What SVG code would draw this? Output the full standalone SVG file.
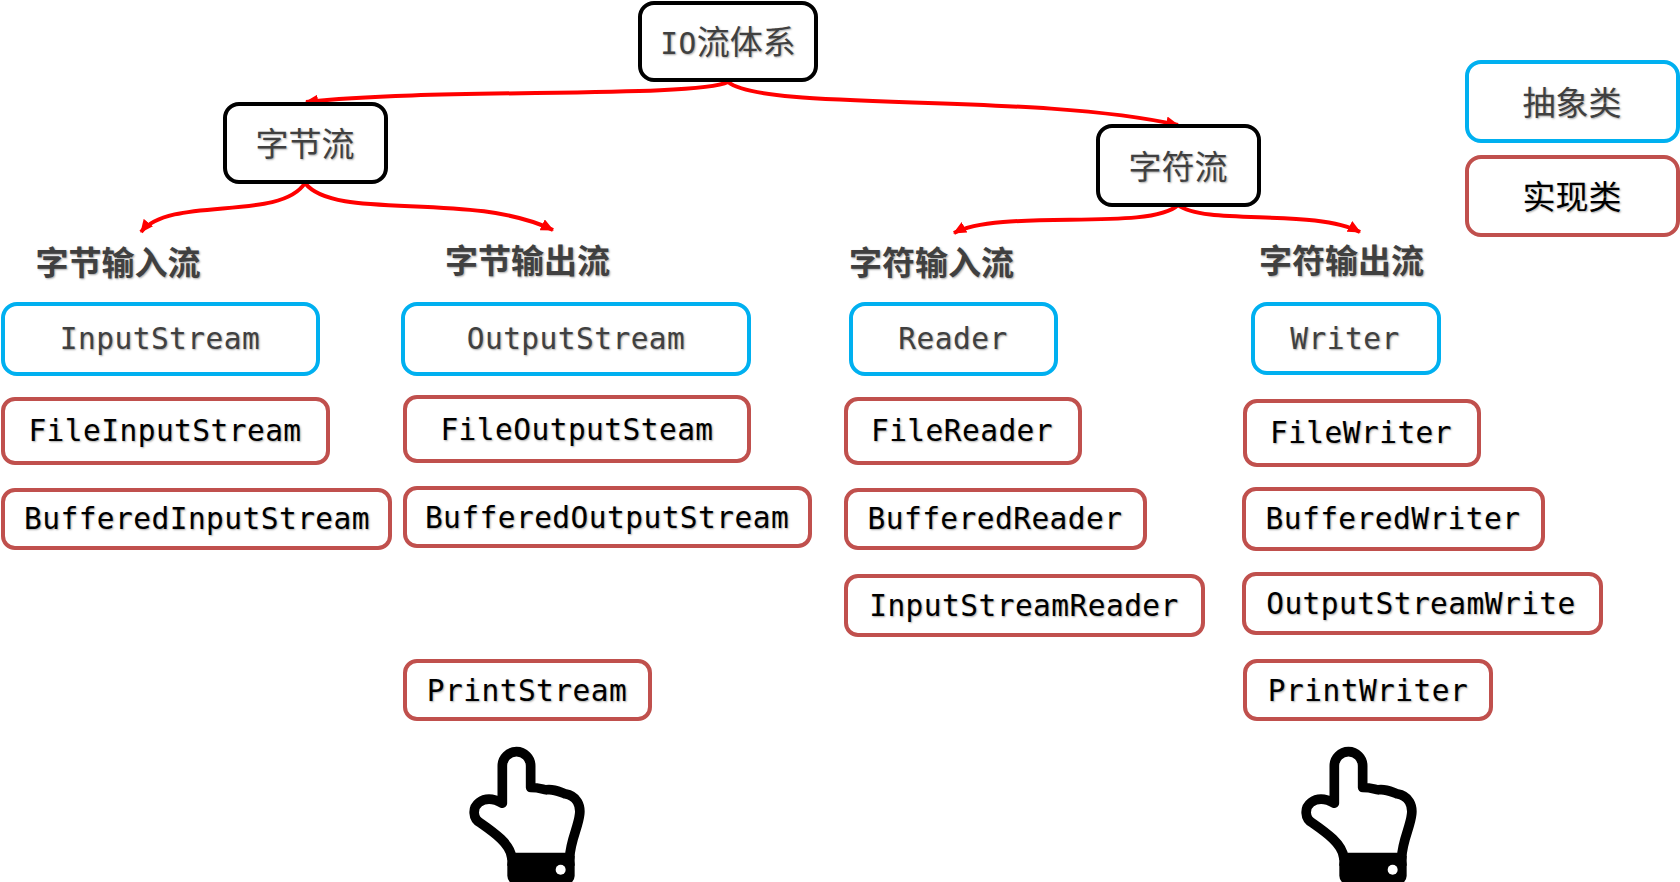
<svg xmlns="http://www.w3.org/2000/svg" xmlns:xlink="http://www.w3.org/1999/xlink" width="1680" height="882" viewBox="0 0 1680 882">
  <style>
    .box { fill: #fff; stroke-width: 4; }
    .root { stroke: #000; }
    .abstract { stroke: #00b0f0; }
    .impl { stroke: #c0504d; }
    text { text-anchor: middle; text-shadow: 1px 1px 2px rgba(0,0,0,.35); }
    .cjk { font-family: "Noto Sans CJK SC", sans-serif; font-size: 33px; fill: #404040; }
    .head { font-family: "Noto Sans CJK SC", sans-serif; font-size: 33px; font-weight: 700; fill: #404040; }
    .code { font-family: "DejaVu Sans Mono", "Liberation Mono", monospace; font-size: 29.5px; letter-spacing: .45px; }
    .dark { fill: #404040; }
    .black { fill: #000; }
    .wire { fill: none; stroke: #f00; stroke-width: 4; marker-end: url(#tip); }
  </style>
  <defs>
    <marker id="tip" markerUnits="userSpaceOnUse" markerWidth="14" markerHeight="12" refX="12" refY="6" orient="auto">
      <path d="M0 0L13 6L0 12Z" fill="#f00"/>
    </marker>
    <g id="hand">
      <path d="M190 212V100a42 42 0 0 1 85 0V165C300 165 310 170 322 172C345 168 365 180 378 184C415 190 425 220 422 245C418 285 395 320 392 375H218C215 335 165 300 125 272C100 258 100 225 120 210C140 195 165 198 190 212Z" fill="#fff" stroke="#000" stroke-width="29" stroke-linejoin="round"/>
      <rect x="205" y="370" width="202" height="86" rx="26" fill="#000"/>
      <rect x="205" y="370" width="202" height="30" fill="#000"/>
      <circle cx="365" cy="412" r="15" fill="#fff"/>
    </g>
  </defs>

  <g id="connectors">
    <path class="wire" d="M728 82C695 98 430 88 306 102"/>
    <path class="wire" d="M728 82C765 112 1030 92 1178 125"/>
    <path class="wire" d="M305 183C280 222 170 195 141 232"/>
    <path class="wire" d="M305 183C335 222 470 190 553 230"/>
    <path class="wire" d="M1178 205C1150 232 1000 208 954 233"/>
    <path class="wire" d="M1178 205C1205 226 1315 208 1360 232"/>
  </g>

  <g id="io-root"><rect class="box root" x="640" y="3" width="176" height="77" rx="14"/><text class="cjk" x="728" y="54"><tspan class="code">IO</tspan>流体系</text></g>
  <g id="byte-stream"><rect class="box root" x="225" y="104" width="161" height="78" rx="14"/><text class="cjk" x="305" y="156">字节流</text></g>
  <g id="char-stream"><rect class="box root" x="1098" y="126" width="161" height="79" rx="14"/><text class="cjk" x="1178" y="179">字符流</text></g>

  <g id="legend-abstract"><rect class="box abstract" x="1467" y="62" width="211" height="79" rx="14"/><text class="cjk" x="1572" y="115">抽象类</text></g>
  <g id="legend-impl"><rect class="box impl" x="1467" y="157" width="211" height="78" rx="14"/><text class="cjk black" style="fill:#000" x="1572" y="209">实现类</text></g>

  <g id="head-byte-in"><text class="head" x="118" y="274.500">字节输入流</text></g>
  <g id="head-byte-out"><text class="head" x="527.500" y="272.500">字节输出流</text></g>
  <g id="head-char-in"><text class="head" x="931.500" y="274.500">字符输入流</text></g>
  <g id="head-char-out"><text class="head" x="1341.500" y="272.500">字符输出流</text></g>

  <g id="input-stream"><rect class="box abstract" x="3" y="304" width="315" height="70" rx="14"/><text class="code dark" x="160" y="349">InputStream</text></g>
  <g id="file-input-stream"><rect class="box impl" x="3" y="399" width="325" height="64" rx="12"/><text class="code black" x="165" y="441">FileInputStream</text></g>
  <g id="buffered-input-stream"><rect class="box impl" x="3" y="490" width="387" height="58" rx="12"/><text class="code black" x="197" y="529">BufferedInputStream</text></g>

  <g id="output-stream"><rect class="box abstract" x="403" y="304" width="346" height="70" rx="14"/><text class="code dark" x="576" y="349">OutputStream</text></g>
  <g id="file-output-steam"><rect class="box impl" x="405" y="397" width="344" height="64" rx="12"/><text class="code black" x="577" y="440">FileOutputSteam</text></g>
  <g id="buffered-output-stream"><rect class="box impl" x="405" y="488" width="405" height="58" rx="12"/><text class="code black" x="607" y="528">BufferedOutputStream</text></g>
  <g id="print-stream"><rect class="box impl" x="405" y="661" width="245" height="58" rx="12"/><text class="code black" x="527" y="701">PrintStream</text></g>

  <g id="reader"><rect class="box abstract" x="851" y="304" width="205" height="70" rx="14"/><text class="code dark" x="953" y="349">Reader</text></g>
  <g id="file-reader"><rect class="box impl" x="846" y="399" width="234" height="64" rx="12"/><text class="code black" x="962" y="441">FileReader</text></g>
  <g id="buffered-reader"><rect class="box impl" x="846" y="490" width="299" height="58" rx="12"/><text class="code black" x="995" y="529">BufferedReader</text></g>
  <g id="input-stream-reader"><rect class="box impl" x="846" y="576" width="357" height="59" rx="12"/><text class="code black" x="1024" y="616">InputStreamReader</text></g>

  <g id="writer"><rect class="box abstract" x="1253" y="304" width="186" height="69" rx="14"/><text class="code dark" x="1345" y="349">Writer</text></g>
  <g id="file-writer"><rect class="box impl" x="1245" y="401" width="234" height="64" rx="12"/><text class="code black" x="1361" y="443">FileWriter</text></g>
  <g id="buffered-writer"><rect class="box impl" x="1244" y="489" width="299" height="60" rx="12"/><text class="code black" x="1393" y="529">BufferedWriter</text></g>
  <g id="output-stream-write"><rect class="box impl" x="1244" y="574" width="357" height="59" rx="12"/><text class="code black" x="1421" y="614">OutputStreamWrite</text></g>
  <g id="print-writer"><rect class="box impl" x="1245" y="661" width="246" height="58" rx="12"/><text class="code black" x="1368" y="701">PrintWriter</text></g>

  <g id="hand-left"><use xlink:href="#hand" transform="translate(439 732.500) scale(.3333)"/></g>
  <g id="hand-right"><use xlink:href="#hand" transform="translate(1271 732.500) scale(.3333)"/></g>
</svg>
